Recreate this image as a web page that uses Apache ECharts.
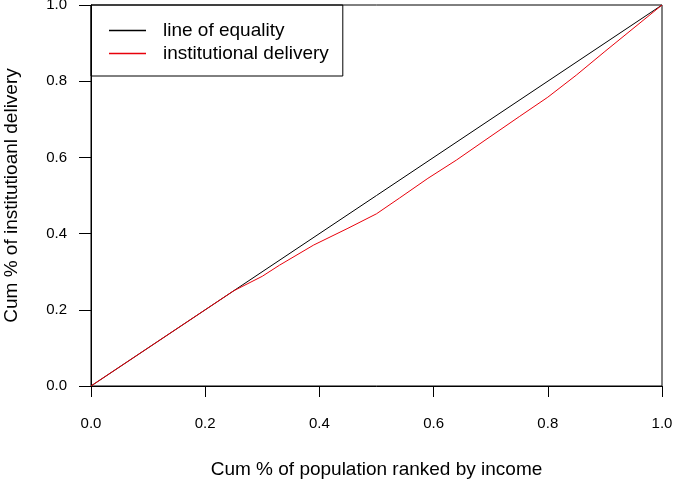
<!DOCTYPE html>
<html>
<head>
<meta charset="utf-8">
<script src="https://cdn.jsdelivr.net/npm/echarts@6/dist/echarts.min.js"></script>
<style>
  html, body { margin: 0; padding: 0; background: #fff; }
  #chart_box { width: 673px; height: 481px; }
</style>
</head>
<body>
<div id="chart_box"></div>
<script>
// tick labels on both axes
const tickValues = [0, 0.2, 0.4, 0.6, 0.8, 1.0];

// line of equality
const equalityX = [0, 1];
const equalityY = [0, 1];

// concentration curve for institutional delivery
const deliveryX = [0, 0.1, 0.2, 0.25, 0.3, 0.33, 0.39, 0.45, 0.5, 0.54, 0.59, 0.64, 0.69, 0.75, 0.8, 0.85, 0.9, 1];
const deliveryY = [0, 0.1, 0.2, 0.25, 0.288, 0.317, 0.37, 0.414, 0.452, 0.493, 0.545, 0.593, 0.645, 0.707, 0.758, 0.816, 0.878, 1];

const seriesNames = ["line of equality", "institutional delivery"];

const pair = (xs, ys) => xs.map((x, i) => [x, ys[i]]);
const font = "Liberation Sans, Arial, sans-serif";

const option = {
  animation: false,
  backgroundColor: "#fff",
  grid: {
    left: 91,
    right: 11,
    top: 5,
    bottom: 95,
    show: true,
    borderColor: "#000",
    borderWidth: 1,
    containLabel: false,
    outerBoundsMode: "none",
  },
  legend: {
    left: 91,
    top: 5,
    orient: "vertical",
    data: seriesNames,
    icon: "rect",
    itemWidth: 37,
    itemHeight: 1.5,
    itemGap: 0,
    padding: [14, 14, 11, 18],
    borderColor: "#000",
    borderWidth: 1,
    borderRadius: 0,
    textStyle: { color: "#000", fontSize: 19, fontFamily: font, lineHeight: 23, padding: [0, 0, 0, 12] },
  },
  xAxis: {
    type: "value",
    min: 0,
    max: 1,
    interval: 0.2,
    name: "Cum % of population ranked by income",
    nameLocation: "middle",
    nameGap: 74,
    nameTextStyle: { color: "#000", fontSize: 19, fontFamily: font },
    splitLine: { show: false },
    axisLine: { show: true, onZero: false, lineStyle: { color: "#000", width: 1 } },
    axisTick: { show: true, inside: false, length: 11, lineStyle: { color: "#000", width: 1 } },
    axisLabel: {
      color: "#000",
      fontSize: 15,
      fontFamily: font,
      margin: 30,
      formatter: v => v.toFixed(1),
    },
  },
  yAxis: {
    type: "value",
    min: 0,
    max: 1,
    interval: 0.2,
    name: "Cum % of institutioanl delivery",
    nameLocation: "middle",
    nameGap: 70,
    nameTextStyle: { color: "#000", fontSize: 19, fontFamily: font },
    splitLine: { show: false },
    axisLine: { show: true, onZero: false, lineStyle: { color: "#000", width: 1 } },
    axisTick: { show: true, inside: false, length: 12, lineStyle: { color: "#000", width: 1 } },
    axisLabel: {
      color: "#000",
      fontSize: 15,
      fontFamily: font,
      margin: 24,
      formatter: v => v.toFixed(1),
    },
  },
  series: [
    {
      name: seriesNames[0],
      type: "line",
      data: pair(equalityX, equalityY),
      symbol: "none",
      color: "#000",
      lineStyle: { color: "#000", width: 1 },
    },
    {
      name: seriesNames[1],
      type: "line",
      data: pair(deliveryX, deliveryY),
      symbol: "none",
      color: "#e8000b",
      lineStyle: { color: "#e8000b", width: 1 },
    },
  ],
};

let myChart = echarts.init(document.getElementById("chart_box"));
myChart.setOption(option);
</script>
</body>
</html>
